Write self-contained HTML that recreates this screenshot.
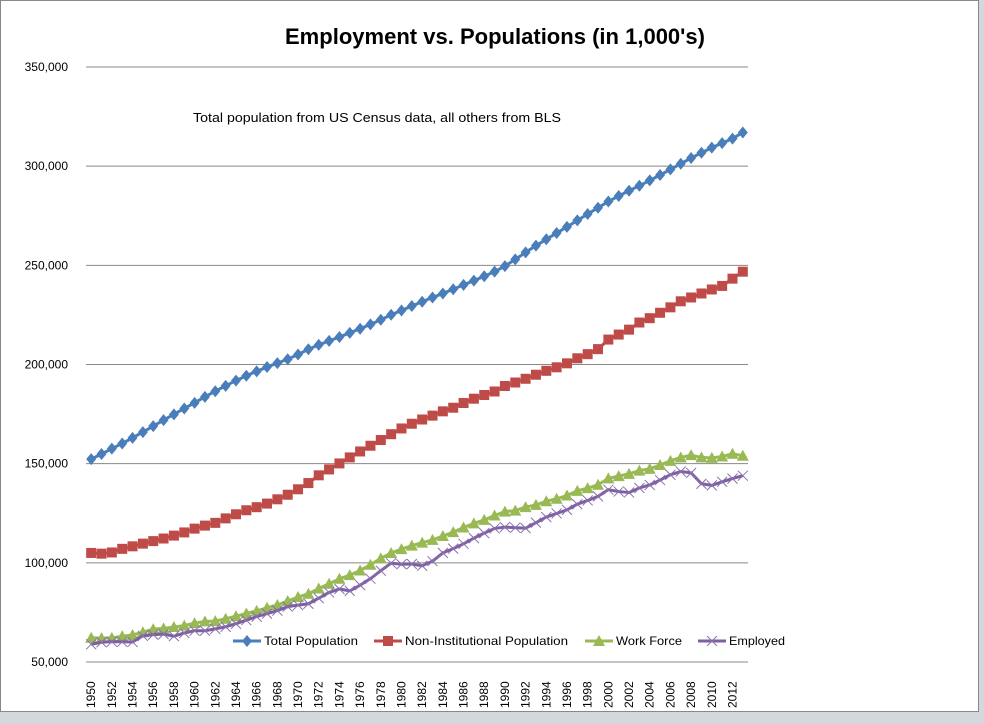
<!DOCTYPE html>
<html><head><meta charset="utf-8"><style>
body{margin:0;background:#d4d8dc;}
#wrap{position:absolute;left:0;top:0;width:984px;height:724px;background:#d4d8dc;}
svg{position:absolute;left:0;top:0;font-family:"Liberation Sans",sans-serif;}
</style></head><body>
<div id="wrap">
<svg id="chart" width="984" height="724"></svg>
</div>
<script>
const years=[];for(let y=1950;y<=2013;y++)years.push(y);
const totalPop=[152271,154878,157553,160184,163026,165931,168903,171984,174882,177830,180671,183691,186538,189242,191889,194303,196560,198712,200706,202677,205052,207661,209896,211909,213854,215973,218035,220239,222585,225055,227225,229466,231664,233792,235825,237924,240133,242289,244499,246819,249623,252981,256514,259919,263126,266278,269394,272647,275854,279040,282162,284969,287625,290108,292805,295517,298380,301231,304094,306772,309326,311588,313914,317000];
const nonInst=[104995,104621,105231,107056,108321,109683,110954,112265,113727,115329,117245,118771,120153,122416,124485,126513,128058,129874,132028,134335,137085,140216,144126,147096,150120,153153,156150,159033,161910,164863,167745,170130,172271,174215,176383,178206,180587,182753,184613,186393,189164,190925,192805,194838,196814,198584,200591,203133,205220,207753,212577,215092,217570,221168,223357,226082,228815,231867,233788,235801,237830,239618,243284,246800];
const workForce=[62208,62017,62138,63015,63643,65023,66552,66929,67639,68369,69628,70459,70614,71833,73091,74455,75770,77347,78737,80734,82771,84382,87034,89429,91949,93775,96158,99009,102251,104962,106940,108670,110204,111550,113544,115461,117834,119865,121669,123869,125840,126346,128105,129200,131056,132304,133943,136297,137673,139368,142583,143734,144863,146510,147401,149320,151428,153124,154287,153142,152889,153617,154975,154000];
const employed=[58918,59961,60250,60179,60109,63170,63799,64071,63036,64630,65778,65746,66702,67762,69305,71088,72895,74372,75920,77902,78678,79367,82153,85064,86794,85846,88752,92017,96048,99824,99303,99397,98526,100834,105005,107150,109597,112440,114968,117342,117993,117718,117492,120259,123060,124900,126708,129558,131463,133488,136891,135933,135485,137736,139252,141730,144427,146047,145362,139877,139064,140869,142469,143929];
const yTicks=[50000,100000,150000,200000,250000,300000,350000];
const NS="http://www.w3.org/2000/svg";
const svg=document.getElementById('chart');
function mk(t,a,p){const e=document.createElementNS(NS,t);for(const k in a)e.setAttribute(k,a[k]);(p||svg).appendChild(e);return e;}
const X0=86,X1=748,Y0=662,Y1=67;
const xs=i=>X0+(X1-X0)/years.length*(i+0.5);
const ys=v=>Y0-(v-50000)/300000*(Y0-Y1);
let bg=mk('rect',{x:0.5,y:0.5,width:978,height:711,fill:'#fff',stroke:'#888'});


let t=mk('text',{x:495,y:44,'text-anchor':'middle','font-size':22,'font-weight':'bold',fill:'#000',textLength:420,lengthAdjust:'spacingAndGlyphs'});t.textContent="Employment vs. Populations (in 1,000's)";


let st=mk('text',{x:193,y:122,'font-size':13,fill:'#000',textLength:368,lengthAdjust:'spacingAndGlyphs'});st.textContent="Total population from  US Census data, all others from BLS";


yTicks.forEach(v=>{
 let g=mk('line',{x1:X0,x2:X1,y1:ys(v),y2:ys(v),stroke:'#888','stroke-width':1});
 
 
 let l=mk('text',{x:68,y:ys(v)+4,'text-anchor':'end','font-size':12,fill:'#000'});l.textContent=v.toLocaleString('en-US');
 
 
});
years.forEach((y,i)=>{
 if(i%2)return;
 let l=mk('text',{transform:`translate(${xs(i)+4},708) rotate(-90)`,'font-size':12,fill:'#000'});l.textContent=y;
 
 
});
function marker(type,x,y,c,p){
 if(type==='d')return mk('polygon',{points:`${x},${y-6} ${x+5},${y} ${x},${y+6} ${x-5},${y}`,fill:c},p);
 if(type==='s')return mk('rect',{x:x-5,y:y-5,width:10,height:10,fill:c},p);
 if(type==='t')return mk('polygon',{points:`${x},${y-6} ${x+6},${y+5} ${x-6},${y+5}`,fill:c},p);
 return mk('path',{d:`M${x-5},${y-5}L${x+5},${y+5}M${x-5},${y+5}L${x+5},${y-5}`,stroke:c,'stroke-width':1},p);
}
const series=[
 {name:'Total Population',d:totalPop,c:'#4a7ebb',m:'d',mc:'#4a7ebb',key:'total-population'},
 {name:'Non-Institutional Population',d:nonInst,c:'#be4b48',m:'s',mc:'#be4b48',key:'non-institutional-population'},
 {name:'Work Force',d:workForce,c:'#98b954',m:'t',mc:'#98b954',key:'work-force'},
 {name:'Employed',d:employed,c:'#7d60a0',m:'x',mc:'#8a70b0',key:'employed'}];
series.forEach(s=>{
 const g=mk('g',{});
 
 
 mk('polyline',{points:s.d.map((v,i)=>xs(i)+','+ys(v)).join(' '),fill:'none',stroke:s.c,'stroke-width':3,'stroke-linejoin':'round'},g);
 s.d.forEach((v,i)=>{const m=marker(s.m,xs(i),ys(v),s.mc,g);
  
  });
});
const lx=[233,374,585,698];
const lw=[94,163,66,56];
series.forEach((s,i)=>{
 const g=mk('g',{});
 
 
 mk('line',{x1:lx[i],x2:lx[i]+28,y1:641,y2:641,stroke:s.c,'stroke-width':3},g);
 marker(s.m,lx[i]+14,641,s.mc,g);
 const tx=mk('text',{x:lx[i]+31,y:645,'font-size':12,fill:'#000',textLength:lw[i],lengthAdjust:'spacingAndGlyphs'},g);tx.textContent=s.name;
});
</script>
</body></html>
